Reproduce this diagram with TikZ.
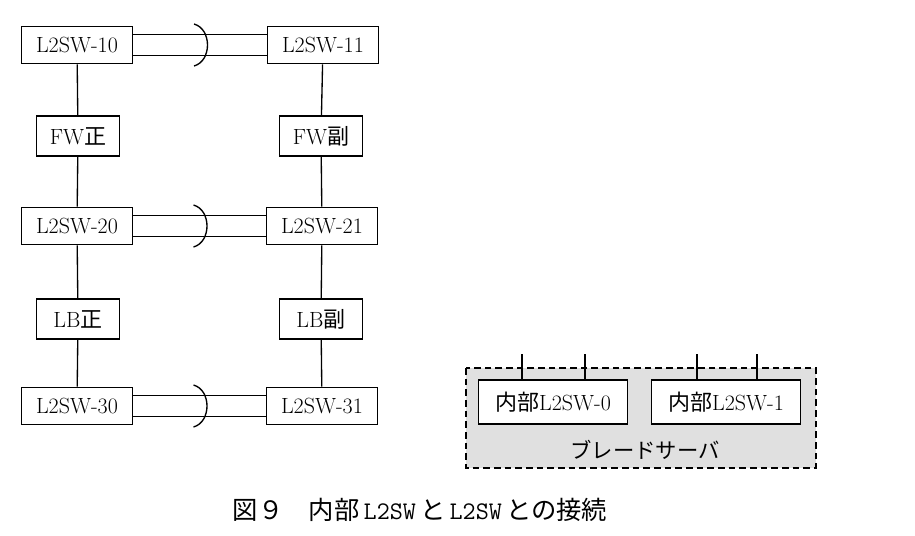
\documentclass[tikz,border=0pt]{standalone}
\usepackage{fontspec}
\newfontfamily\cjk{Noto Sans CJK JP}
\usetikzlibrary{positioning, calc}
\tikzset{
  sw/.style={draw, line width=1pt, fill=white, minimum width=83pt, minimum height=28pt, inner sep=1pt, font=\fontsize{16.5}{19}\selectfont},
  fw/.style={draw, line width=1pt, fill=white, minimum width=62pt, minimum height=30pt, inner sep=1pt, font=\fontsize{16.5}{19}\selectfont},
  isw/.style={draw, line width=1pt, fill=white, minimum width=112pt, minimum height=33pt, inner sep=1pt, font=\fontsize{16.5}{19}\selectfont},
  link/.style={line width=1pt},
}
\begin{document}
\begin{tikzpicture}[x=0.75pt,y=-0.75pt]
  \useasboundingbox (0,0) rectangle (915,536);

  % blade server
  \draw [line width=1.6pt, dash pattern=on 5pt off 3pt, fill=black!12] (466,368) rectangle (816,468);
  \node [isw] (i0) at (553,402) {{\cjk 内部}L2SW-0};
  \node [isw] (i1) at (726,402) {{\cjk 内部}L2SW-1};
  \node [font=\cjk\fontsize{16}{19}\selectfont] (blade) at (645,450) {ブレードサーバ};
  \foreach \n/\a/\b in {i0/-31/32, i1/-29/31} {
    \draw [link] ([xshift=\a*0.75pt]\n.north) -- ++(0,-25);
    \draw [link] ([xshift=\b*0.75pt]\n.north) -- ++(0,-25);
  }

  % switches
  \node [sw] (s10) at (77,45)  {L2SW-10};
  \node [sw] (s11) at (323,45) {L2SW-11};
  \node [fw] (fw0) at (78,136) {FW{\cjk 正}};
  \node [fw] (fw1) at (321,136) {FW{\cjk 副}};
  \node [sw] (s20) at (77,226) {L2SW-20};
  \node [sw] (s21) at (322,226) {L2SW-21};
  \node [fw] (lb0) at (78,319) {LB{\cjk 正}};
  \node [fw] (lb1) at (321,319) {LB{\cjk 副}};
  \node [sw] (s30) at (77,406) {L2SW-30};
  \node [sw] (s31) at (322,406) {L2SW-31};

  \draw [link] (s10) -- (fw0) -- (s20) -- (lb0) -- (s30);
  \draw [link] (s11) -- (fw1) -- (s21) -- (lb1) -- (s31);

  % aggregated links
  \foreach \l/\r in {s10/s11, s20/s21, s30/s31} {
    \draw [link] ([yshift=8pt]\l.east) -- ([yshift=8pt]\r.west);
    \draw [link] ([yshift=-8pt]\l.east) -- ([yshift=-8pt]\r.west);
    \draw [link] ($ (\l.east)!0.5!(\r.west) $) ++(-6,-21) .. controls ++(18,5) and ++(18,-5) .. ++(0,42);
  }

  \node [font=\fontsize{19}{22}\selectfont] (cap) at (420,510) {{\cjk 図９\quad 内部}\,\texttt{L2SW}\,{\cjk と}\,\texttt{L2SW}\,{\cjk との接続}};
\end{tikzpicture}
\end{document}
